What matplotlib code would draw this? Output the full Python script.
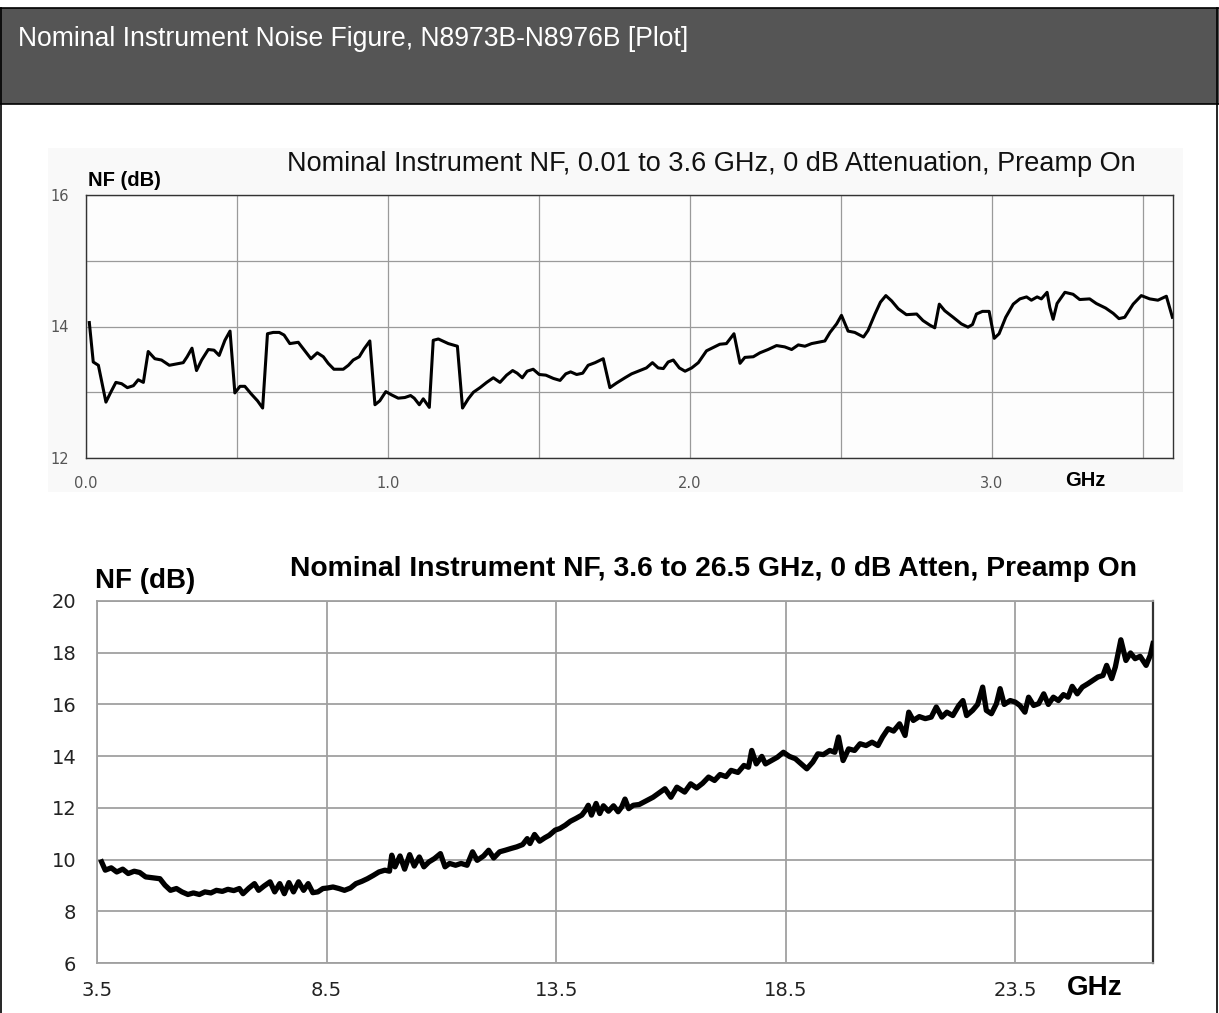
import numpy as np
import matplotlib.pyplot as plt
from matplotlib.patches import Rectangle
from matplotlib.lines import Line2D

# Datos

# 0.01 a 3.6 GHz
f_low = [0.011, 0.024, 0.041, 0.066, 0.082, 0.099, 0.118, 0.137, 0.157, 0.173,
         0.190, 0.206, 0.228, 0.250, 0.276, 0.300, 0.322, 0.335, 0.351, 0.366,
         0.383, 0.405, 0.424, 0.441, 0.460, 0.477, 0.493, 0.510, 0.526, 0.548,
         0.568, 0.585, 0.601, 0.620, 0.640, 0.656, 0.675, 0.703, 0.725, 0.745,
         0.766, 0.786, 0.802, 0.821, 0.852, 0.869, 0.885, 0.905, 0.921, 0.940,
         0.957, 0.973, 0.993, 1.012, 1.034, 1.056, 1.075, 1.087, 1.104, 1.117,
         1.137, 1.150, 1.167, 1.200, 1.230, 1.247, 1.266, 1.283, 1.305, 1.327,
         1.349, 1.371, 1.393, 1.413, 1.428, 1.445, 1.461, 1.481, 1.501, 1.523,
         1.548, 1.570, 1.589, 1.605, 1.625, 1.645, 1.663, 1.686, 1.713, 1.735,
         1.757, 1.785, 1.807, 1.834, 1.856, 1.876, 1.895, 1.912, 1.928, 1.945,
         1.965, 1.984, 2.006, 2.028, 2.055, 2.077, 2.099, 2.121, 2.146, 2.166,
         2.182, 2.210, 2.232, 2.259, 2.287, 2.314, 2.337, 2.359, 2.381, 2.403,
         2.425, 2.447, 2.464, 2.486, 2.502, 2.524, 2.546, 2.575, 2.590, 2.613,
         2.631, 2.649, 2.668, 2.690, 2.717, 2.751, 2.772, 2.795, 2.811, 2.826,
         2.844, 2.872, 2.899, 2.921, 2.936, 2.949, 2.969, 2.991, 3.008, 3.024,
         3.046, 3.071, 3.093, 3.115, 3.131, 3.150, 3.164, 3.183, 3.192, 3.203,
         3.216, 3.242, 3.269, 3.291, 3.324, 3.346, 3.377, 3.402, 3.421, 3.440,
         3.468, 3.495, 3.523, 3.550, 3.578, 3.598]
nf_low = [14.06, 13.46, 13.41, 12.85, 13.00, 13.15, 13.13, 13.07, 13.10, 13.19,
          13.15, 13.62, 13.51, 13.49, 13.41, 13.43, 13.45, 13.54, 13.67, 13.33,
          13.49, 13.65, 13.64, 13.56, 13.79, 13.93, 12.99, 13.09, 13.09, 12.97,
          12.87, 12.76, 13.89, 13.91, 13.91, 13.87, 13.74, 13.76, 13.63, 13.51,
          13.60, 13.54, 13.44, 13.35, 13.35, 13.41, 13.49, 13.54, 13.66, 13.78,
          12.81, 12.87, 13.01, 12.96, 12.91, 12.92, 12.95, 12.91, 12.81, 12.90,
          12.77, 13.79, 13.81, 13.74, 13.70, 12.76, 12.90, 13.00, 13.07, 13.15,
          13.22, 13.15, 13.26, 13.33, 13.29, 13.22, 13.32, 13.35, 13.27, 13.26,
          13.21, 13.18, 13.28, 13.31, 13.27, 13.29, 13.41, 13.45, 13.51, 13.07,
          13.14, 13.22, 13.28, 13.33, 13.37, 13.45, 13.37, 13.36, 13.46, 13.49,
          13.37, 13.32, 13.37, 13.45, 13.63, 13.68, 13.73, 13.74, 13.89, 13.44,
          13.53, 13.54, 13.60, 13.65, 13.71, 13.69, 13.65, 13.72, 13.70, 13.74,
          13.76, 13.78, 13.91, 14.04, 14.17, 13.93, 13.91, 13.84, 13.94, 14.19,
          14.37, 14.47, 14.39, 14.27, 14.18, 14.19, 14.09, 14.02, 13.98, 14.34,
          14.24, 14.14, 14.04, 13.99, 14.03, 14.19, 14.23, 14.23, 13.82, 13.89,
          14.14, 14.34, 14.42, 14.45, 14.40, 14.45, 14.42, 14.52, 14.29, 14.11,
          14.35, 14.52, 14.49, 14.41, 14.42, 14.35, 14.28, 14.20, 14.12, 14.14,
          14.34, 14.47, 14.42, 14.40, 14.46, 14.14]

# 3.6 a 26.5 GHz
f_high = [3.60, 3.68, 3.81, 3.93, 4.06, 4.18, 4.31, 4.43, 4.56, 4.73,
          4.87, 4.98, 5.10, 5.23, 5.35, 5.48, 5.60, 5.73, 5.85, 5.98,
          6.10, 6.23, 6.35, 6.48, 6.60, 6.68, 6.81, 6.93, 7.02, 7.14,
          7.27, 7.37, 7.48, 7.58, 7.68, 7.78, 7.89, 8.00, 8.10, 8.20,
          8.31, 8.42, 8.52, 8.64, 8.77, 8.89, 9.02, 9.14, 9.27, 9.39,
          9.52, 9.64, 9.77, 9.87, 9.92, 9.99, 10.10, 10.20, 10.31, 10.41,
          10.52, 10.62, 10.73, 10.85, 10.98, 11.08, 11.18, 11.31, 11.43, 11.56,
          11.68, 11.78, 11.92, 12.03, 12.14, 12.27, 12.39, 12.52, 12.64, 12.77,
          12.87, 12.93, 13.03, 13.14, 13.25, 13.35, 13.48, 13.58, 13.70, 13.81,
          13.93, 14.06, 14.14, 14.20, 14.27, 14.37, 14.45, 14.53, 14.64, 14.75,
          14.85, 14.93, 15.00, 15.08, 15.18, 15.31, 15.61, 15.87, 16.00, 16.13,
          16.30, 16.43, 16.56, 16.69, 16.82, 16.95, 17.07, 17.20, 17.31, 17.46,
          17.59, 17.69, 17.76, 17.86, 17.98, 18.06, 18.19, 18.32, 18.45, 18.58,
          18.71, 18.84, 18.96, 19.09, 19.20, 19.32, 19.46, 19.57, 19.65, 19.75,
          19.87, 20.00, 20.12, 20.25, 20.38, 20.51, 20.61, 20.73, 20.85, 20.98,
          21.10, 21.18, 21.28, 21.41, 21.54, 21.67, 21.78, 21.90, 22.01, 22.14,
          22.27, 22.36, 22.44, 22.57, 22.68, 22.79, 22.87, 22.98, 23.09, 23.17,
          23.26, 23.39, 23.50, 23.60, 23.71, 23.79, 23.90, 24.01, 24.12, 24.22,
          24.33, 24.44, 24.55, 24.65, 24.74, 24.85, 24.96, 25.08, 25.19, 25.30,
          25.41, 25.49, 25.60, 25.68, 25.80, 25.91, 26.01, 26.11, 26.22, 26.35,
          26.44, 26.50]
nf_high = [9.91, 9.59, 9.68, 9.52, 9.63, 9.46, 9.55, 9.50, 9.33, 9.29,
           9.26, 9.01, 8.81, 8.88, 8.75, 8.65, 8.71, 8.65, 8.75, 8.71,
           8.81, 8.77, 8.85, 8.80, 8.88, 8.68, 8.90, 9.07, 8.81, 8.98,
           9.14, 8.75, 9.07, 8.68, 9.11, 8.75, 9.14, 8.81, 9.07, 8.72,
           8.75, 8.88, 8.90, 8.94, 8.88, 8.81, 8.90, 9.07, 9.16, 9.26,
           9.39, 9.52, 9.59, 9.55, 10.17, 9.72, 10.14, 9.63, 10.19, 9.75,
           10.10, 9.72, 9.91, 10.04, 10.23, 9.72, 9.85, 9.78, 9.85, 9.78,
           10.30, 9.97, 10.14, 10.36, 10.06, 10.30, 10.36, 10.43, 10.49, 10.58,
           10.81, 10.62, 10.97, 10.71, 10.84, 10.94, 11.14, 11.20, 11.33, 11.48,
           11.59, 11.72, 11.91, 12.10, 11.72, 12.17, 11.78, 12.08, 11.87, 12.08,
           11.85, 12.04, 12.34, 11.97, 12.10, 12.13, 12.41, 12.74, 12.41, 12.80,
           12.61, 12.93, 12.77, 12.95, 13.19, 13.06, 13.29, 13.21, 13.45, 13.37,
           13.64, 13.57, 14.22, 13.70, 13.99, 13.70, 13.83, 13.96, 14.15, 13.99,
           13.90, 13.70, 13.51, 13.77, 14.09, 14.06, 14.22, 14.15, 14.74, 13.83,
           14.28, 14.22, 14.48, 14.41, 14.54, 14.41, 14.74, 15.06, 14.97, 15.25,
           14.80, 15.70, 15.38, 15.53, 15.45, 15.51, 15.90, 15.51, 15.70, 15.57,
           15.96, 16.15, 15.57, 15.77, 16.00, 16.67, 15.77, 15.64, 16.03, 16.61,
           16.00, 16.15, 16.09, 15.96, 15.70, 16.28, 15.96, 16.03, 16.41, 16.00,
           16.28, 16.15, 16.38, 16.28, 16.70, 16.41, 16.67, 16.80, 16.93, 17.06,
           17.12, 17.51, 17.00, 17.45, 18.50, 17.70, 17.99, 17.77, 17.86, 17.51,
           17.90, 18.35]

low_xticks = [0.0, 0.5, 1.0, 1.5, 2.0, 2.5, 3.0, 3.5]
low_xlabels = ["0.0", "", "1.0", "", "2.0", "", "3.0", ""]
low_yticks = [12, 13, 14, 15, 16]
low_ylabels = ["12", "", "14", "", "16"]

high_xticks = [3.5, 8.5, 13.5, 18.5, 23.5]
high_xlabels = ["3.5", "8.5", "13.5", "18.5", "23.5"]
high_yticks = [6, 8, 10, 12, 14, 16, 18, 20]

W, H = 1219, 1013
fig = plt.figure(figsize=(W / 100, H / 100), dpi=100)
fig.patch.set_facecolor("white")

# Cabecera gris
fig.patches.append(Rectangle((0, 1 - 104 / H), 1, 96 / H, transform=fig.transFigure,
                             facecolor="#555555", edgecolor="none", zorder=-2))
for y in [1 - 8 / H, 1 - 104 / H]:
    fig.add_artist(Line2D([0, 1], [y, y], transform=fig.transFigure, color="black", lw=1.2))
for x in [0.6 / W, 1 - 2 / W]:
    fig.add_artist(Line2D([x, x], [0, 1 - 8 / H], transform=fig.transFigure, color="black", lw=1.2))
fig.text(18 / W, 1 - 39 / H, "Nominal Instrument Noise Figure, N8973B-N8976B [Plot]",
         color="white", fontsize=19.1, family="Liberation Sans",
         ha="left", va="center")

# Fondo ligeramente gris de la imagen escaneada
fig.patches.append(Rectangle((48 / W, 1 - 492 / H), 1135 / W, 344 / H, transform=fig.transFigure,
                             facecolor="#f9f9f9", edgecolor="none", zorder=-2))

# Grafica superior
ax1 = fig.add_axes([86 / W, 1 - 458 / H, (1173 - 86) / W, (458 - 195) / H])
ax1.set_facecolor("#fdfdfd")
ax1.plot(f_low, nf_low, color="black", lw=2.2, zorder=3)
ax1.set_xlim(0, 3.6)
ax1.set_ylim(12, 16)
ax1.set_xticks(low_xticks)
ax1.set_xticklabels(low_xlabels)
ax1.set_yticks(low_yticks)
ax1.set_yticklabels(low_ylabels)
ax1.grid(True, color="#9a9a9a", lw=0.9)
ax1.tick_params(length=0, labelsize=10.5, labelcolor="#555555")
ax1.tick_params(axis="x", pad=13)
ax1.tick_params(axis="y", pad=12)
for s in ax1.spines.values():
    s.set_color("#333333")
    s.set_linewidth(1.0)

fig.text(711 / W, 1 - 164 / H, "Nominal Instrument NF, 0.01 to 3.6 GHz, 0 dB Attenuation, Preamp On",
         fontsize=19.5, ha="center", va="center", color="#111111", family="Liberation Sans")
fig.text(88 / W, 1 - 180 / H, "NF (dB)", fontsize=14.5, fontweight="bold",
         ha="left", va="center", family="Liberation Sans")
fig.text(1085 / W, 1 - 481 / H, "GHz", fontsize=14.5, fontweight="bold",
         ha="center", va="center", family="Liberation Sans")

# Grafica inferior
ax2 = fig.add_axes([97 / W, 1 - 963 / H, (1153 - 97) / W, (963 - 601) / H])
ax2.plot(f_high, nf_high, color="black", lw=3.8, zorder=3)
ax2.set_xlim(3.5, 26.5)
ax2.set_ylim(6, 20)
ax2.set_xticks(high_xticks)
ax2.set_xticklabels(high_xlabels)
ax2.set_yticks(high_yticks)
ax2.grid(True, color="#a0a0a0", lw=1.3)
ax2.tick_params(length=0, labelsize=14, labelcolor="#222222")
ax2.tick_params(axis="x", pad=13)
ax2.tick_params(axis="y", pad=15)
for side in ["left", "bottom", "top"]:
    ax2.spines[side].set_color("#a0a0a0")
    ax2.spines[side].set_linewidth(1.3)
ax2.spines["right"].set_color("#333333")
ax2.spines["right"].set_linewidth(1.6)

fig.text(713 / W, 1 - 569 / H, "Nominal Instrument NF, 3.6 to 26.5 GHz, 0 dB Atten, Preamp On",
         fontsize=20.3, fontweight="bold", ha="center", va="center", family="Liberation Sans")
fig.text(95 / W, 1 - 581 / H, "NF (dB)", fontsize=20, fontweight="bold",
         ha="left", va="center", family="Liberation Sans")
fig.text(1095 / W, 1 - 988 / H, "GHz", fontsize=20, fontweight="bold",
         ha="center", va="center", family="Liberation Sans")

fig.savefig("out.png", dpi=100)
